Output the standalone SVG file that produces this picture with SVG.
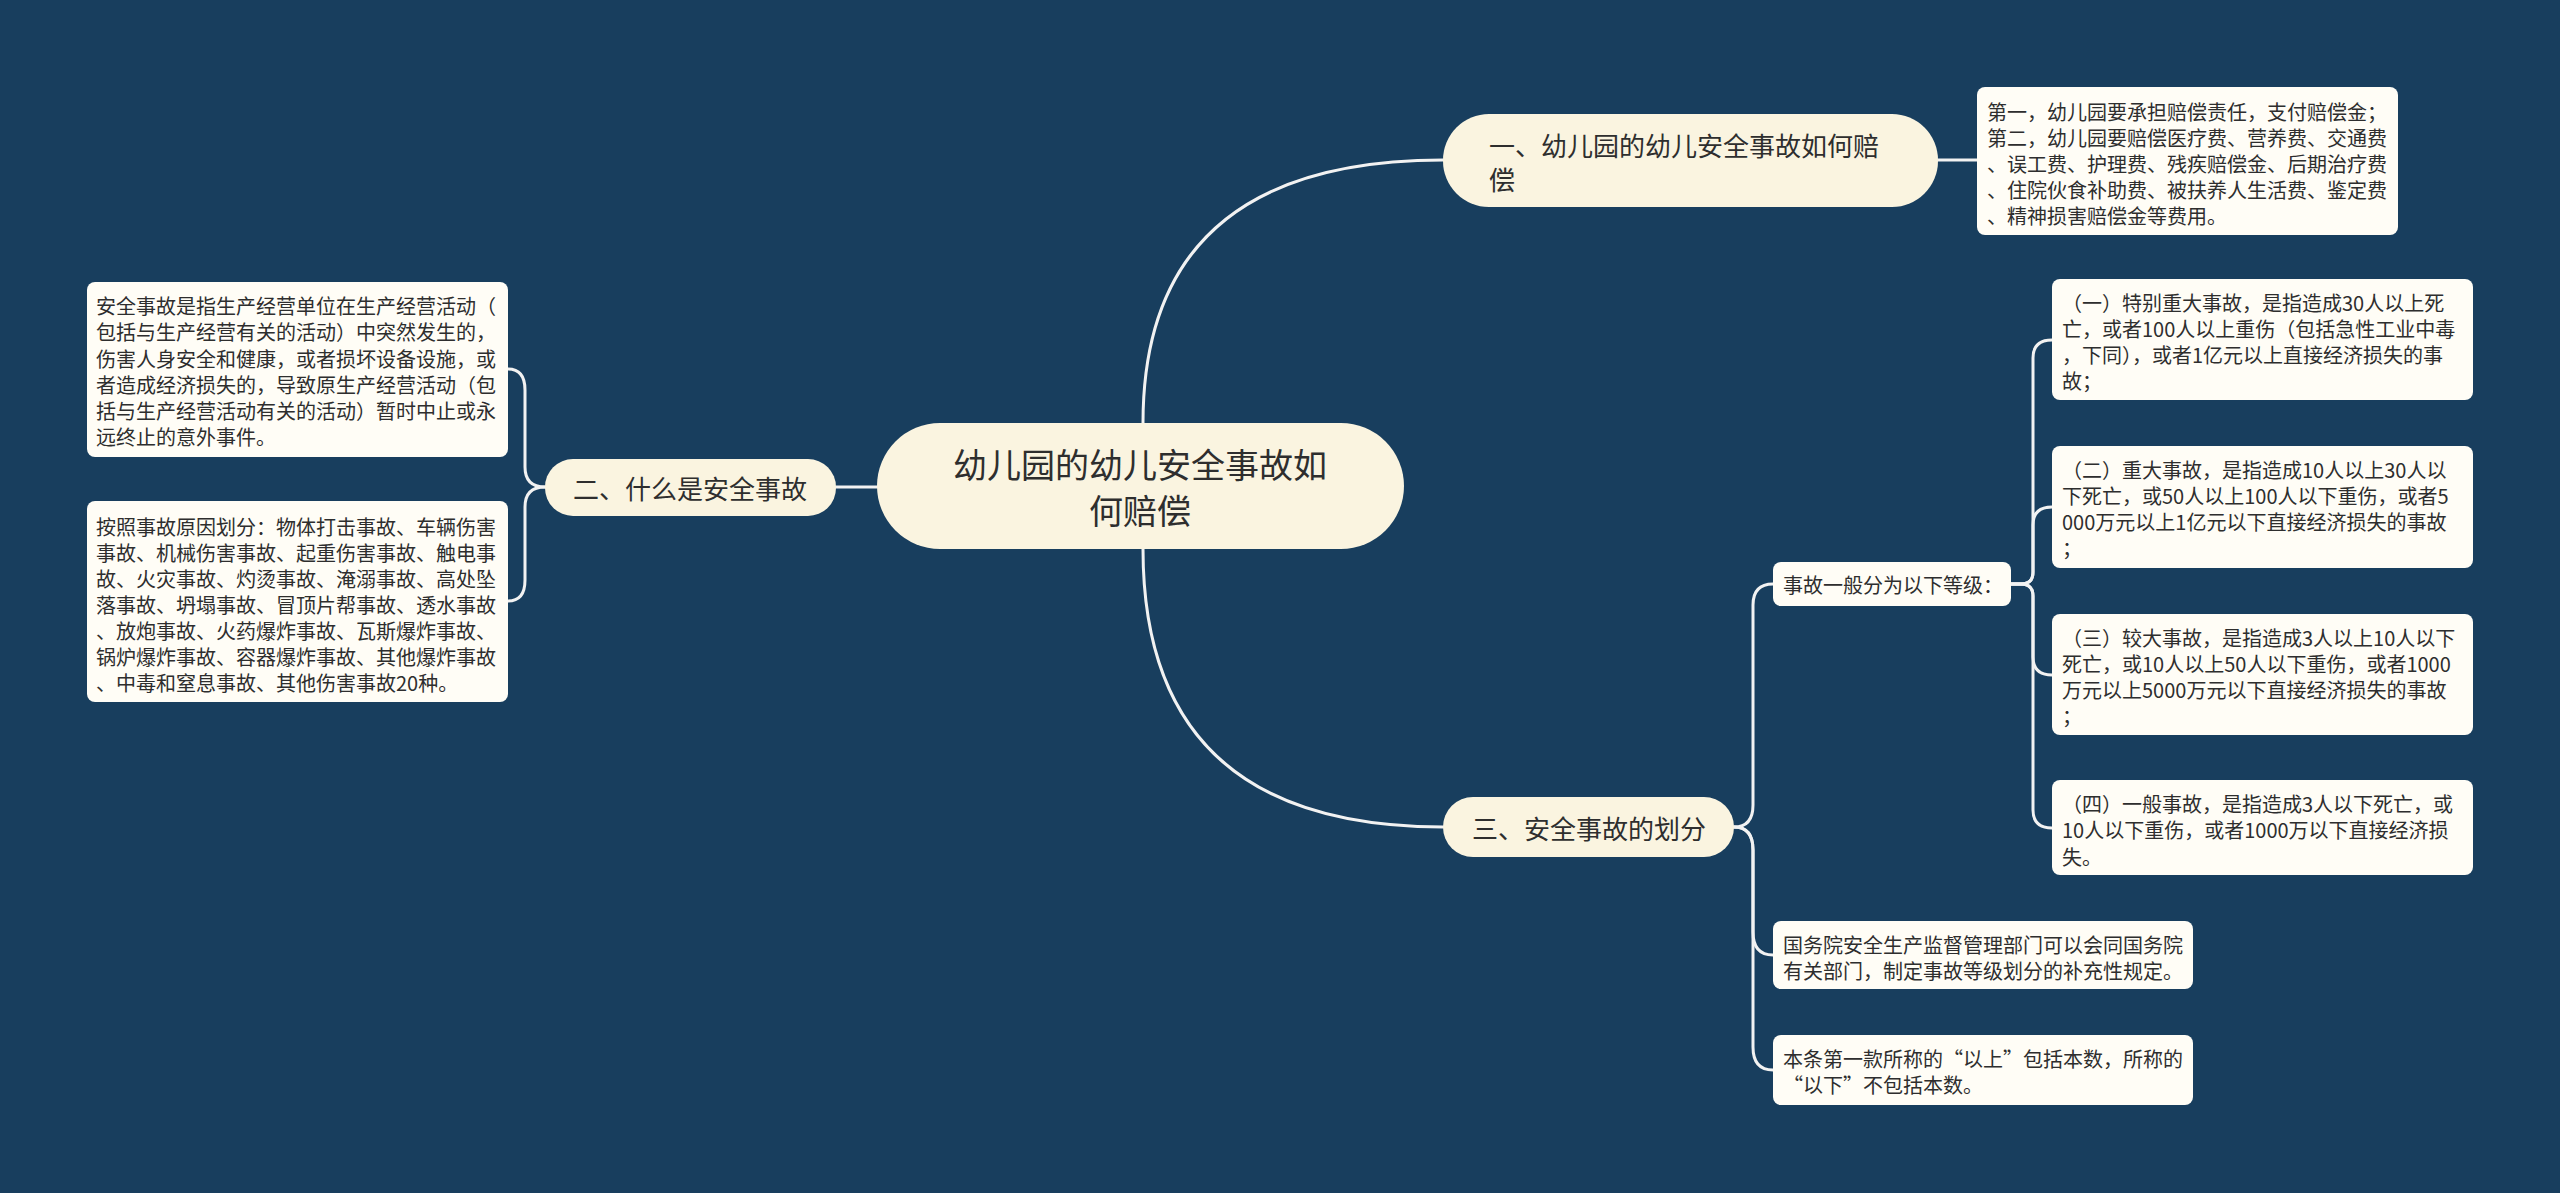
<svg xmlns="http://www.w3.org/2000/svg" width="2560" height="1193" viewBox="0 0 2560 1193">
<style>
.bg{fill:#183e5e}
.main{fill:#faf4e0}
.leaf{fill:#fffdf6}
.t{font-family:"Noto Sans CJK SC","Noto Sans",sans-serif;fill:#2e2e2e;dominant-baseline:central}
.t20{font-size:20px}
.t26{font-size:26px}
.t34{font-size:34px}
.c{fill:none;stroke:#f2f2f2;stroke-width:3;stroke-linecap:round}
</style>
<rect class="bg" x="0" y="0" width="2560" height="1193"/>
<g id="connectors">
<path class="c" d="M1143 423 Q1143 160 1443 160"/>
<path class="c" d="M1143 549 Q1143 827 1443 827"/>
<path class="c" d="M1938 160 L1977 160"/>
<path class="c" d="M877 487 L836 487"/>
<path class="c" d="M545 487 Q525 487 525 467 L525 390 Q525 369 508 369"/>
<path class="c" d="M545 487 Q525 487 525 507 L525 580 Q525 601 508 601"/>
<path class="c" d="M1734 827 Q1753 827 1753 805 L1753 605 Q1753 584 1773 584"/>
<path class="c" d="M1734 827 Q1753 827 1753 850 L1753 932 Q1753 955 1773 955"/>
<path class="c" d="M1734 827 Q1753 827 1753 850 L1753 1047 Q1753 1070 1773 1070"/>
<path class="c" d="M2011 584 L2021 584 Q2033 584 2033 572 L2033 358 Q2033 340 2052 340"/>
<path class="c" d="M2011 584 L2021 584 Q2033 584 2033 572 L2033 525 Q2033 507 2052 507"/>
<path class="c" d="M2011 584 L2021 584 Q2033 584 2033 596 L2033 657 Q2033 675 2052 675"/>
<path class="c" d="M2011 584 L2021 584 Q2033 584 2033 596 L2033 810 Q2033 828 2052 828"/>
</g>
<g id="root">
<rect class="main" x="877" y="423" width="527" height="126" rx="63"/>
<text class="t t34" text-anchor="middle"><tspan x="1140" y="463">幼儿园的幼儿安全事故如</tspan><tspan x="1140" y="509">何赔偿</tspan></text>
</g>
<g id="b1">
<rect class="main" x="1443" y="114" width="495" height="93" rx="46"/>
<text class="t t26"><tspan x="1489" y="144">一、幼儿园的幼儿安全事故如何赔</tspan><tspan x="1489" y="178">偿</tspan></text>
</g>
<g id="b1-leaf">
<rect class="leaf" x="1977" y="87" width="421" height="148" rx="8"/>
<text class="t t20"><tspan x="1987" y="111">第一，幼儿园要承担赔偿责任，支付赔偿金；</tspan><tspan x="1987" y="137">第二，幼儿园要赔偿医疗费、营养费、交通费</tspan><tspan x="1987" y="163">、误工费、护理费、残疾赔偿金、后期治疗费</tspan><tspan x="1987" y="189">、住院伙食补助费、被扶养人生活费、鉴定费</tspan><tspan x="1987" y="215">、精神损害赔偿金等费用。</tspan></text>
</g>
<g id="b2">
<rect class="main" x="545" y="459" width="291" height="57" rx="28"/>
<text class="t t26" x="690" y="487" text-anchor="middle">二、什么是安全事故</text>
</g>
<g id="b2-leaf1">
<rect class="leaf" x="87" y="282" width="421" height="175" rx="8"/>
<text class="t t20"><tspan x="96" y="305">安全事故是指生产经营单位在生产经营活动（</tspan><tspan x="96" y="331">包括与生产经营有关的活动）中突然发生的，</tspan><tspan x="96" y="358">伤害人身安全和健康，或者损坏设备设施，或</tspan><tspan x="96" y="384">者造成经济损失的，导致原生产经营活动（包</tspan><tspan x="96" y="410">括与生产经营活动有关的活动）暂时中止或永</tspan><tspan x="96" y="436">远终止的意外事件。</tspan></text>
</g>
<g id="b2-leaf2">
<rect class="leaf" x="87" y="501" width="421" height="201" rx="8"/>
<text class="t t20"><tspan x="96" y="526">按照事故原因划分：物体打击事故、车辆伤害</tspan><tspan x="96" y="552">事故、机械伤害事故、起重伤害事故、触电事</tspan><tspan x="96" y="578">故、火灾事故、灼烫事故、淹溺事故、高处坠</tspan><tspan x="96" y="604">落事故、坍塌事故、冒顶片帮事故、透水事故</tspan><tspan x="96" y="630">、放炮事故、火药爆炸事故、瓦斯爆炸事故、</tspan><tspan x="96" y="656">锅炉爆炸事故、容器爆炸事故、其他爆炸事故</tspan><tspan x="96" y="682">、中毒和窒息事故、其他伤害事故20种。</tspan></text>
</g>
<g id="b3">
<rect class="main" x="1443" y="797" width="291" height="60" rx="30"/>
<text class="t t26" x="1589" y="827" text-anchor="middle">三、安全事故的划分</text>
</g>
<g id="b3-levels">
<rect class="leaf" x="1773" y="562" width="238" height="44" rx="8"/>
<text class="t t20" x="1783" y="584">事故一般分为以下等级：</text>
</g>
<g id="level1">
<rect class="leaf" x="2052" y="279" width="421" height="121" rx="8"/>
<text class="t t20"><tspan x="2062" y="302">（一）特别重大事故，是指造成30人以上死</tspan><tspan x="2062" y="328">亡，或者100人以上重伤（包括急性工业中毒</tspan><tspan x="2062" y="354">，下同），或者1亿元以上直接经济损失的事</tspan><tspan x="2062" y="380">故；</tspan></text>
</g>
<g id="level2">
<rect class="leaf" x="2052" y="446" width="421" height="122" rx="8"/>
<text class="t t20"><tspan x="2062" y="469">（二）重大事故，是指造成10人以上30人以</tspan><tspan x="2062" y="495">下死亡，或50人以上100人以下重伤，或者5</tspan><tspan x="2062" y="521">000万元以上1亿元以下直接经济损失的事故</tspan><tspan x="2062" y="547">；</tspan></text>
</g>
<g id="level3">
<rect class="leaf" x="2052" y="614" width="421" height="121" rx="8"/>
<text class="t t20"><tspan x="2062" y="637">（三）较大事故，是指造成3人以上10人以下</tspan><tspan x="2062" y="663">死亡，或10人以上50人以下重伤，或者1000</tspan><tspan x="2062" y="689">万元以上5000万元以下直接经济损失的事故</tspan><tspan x="2062" y="715">；</tspan></text>
</g>
<g id="level4">
<rect class="leaf" x="2052" y="780" width="421" height="95" rx="8"/>
<text class="t t20"><tspan x="2062" y="803">（四）一般事故，是指造成3人以下死亡，或</tspan><tspan x="2062" y="829">10人以下重伤，或者1000万以下直接经济损</tspan><tspan x="2062" y="856">失。</tspan></text>
</g>
<g id="b3-leaf2">
<rect class="leaf" x="1773" y="921" width="420" height="68" rx="8"/>
<text class="t t20"><tspan x="1783" y="944">国务院安全生产监督管理部门可以会同国务院</tspan><tspan x="1783" y="970">有关部门，制定事故等级划分的补充性规定。</tspan></text>
</g>
<g id="b3-leaf3">
<rect class="leaf" x="1773" y="1035" width="420" height="70" rx="8"/>
<text class="t t20"><tspan x="1783" y="1058">本条第一款所称的“以上”包括本数，所称的</tspan><tspan x="1783" y="1084">“以下”不包括本数。</tspan></text>
</g>
</svg>
